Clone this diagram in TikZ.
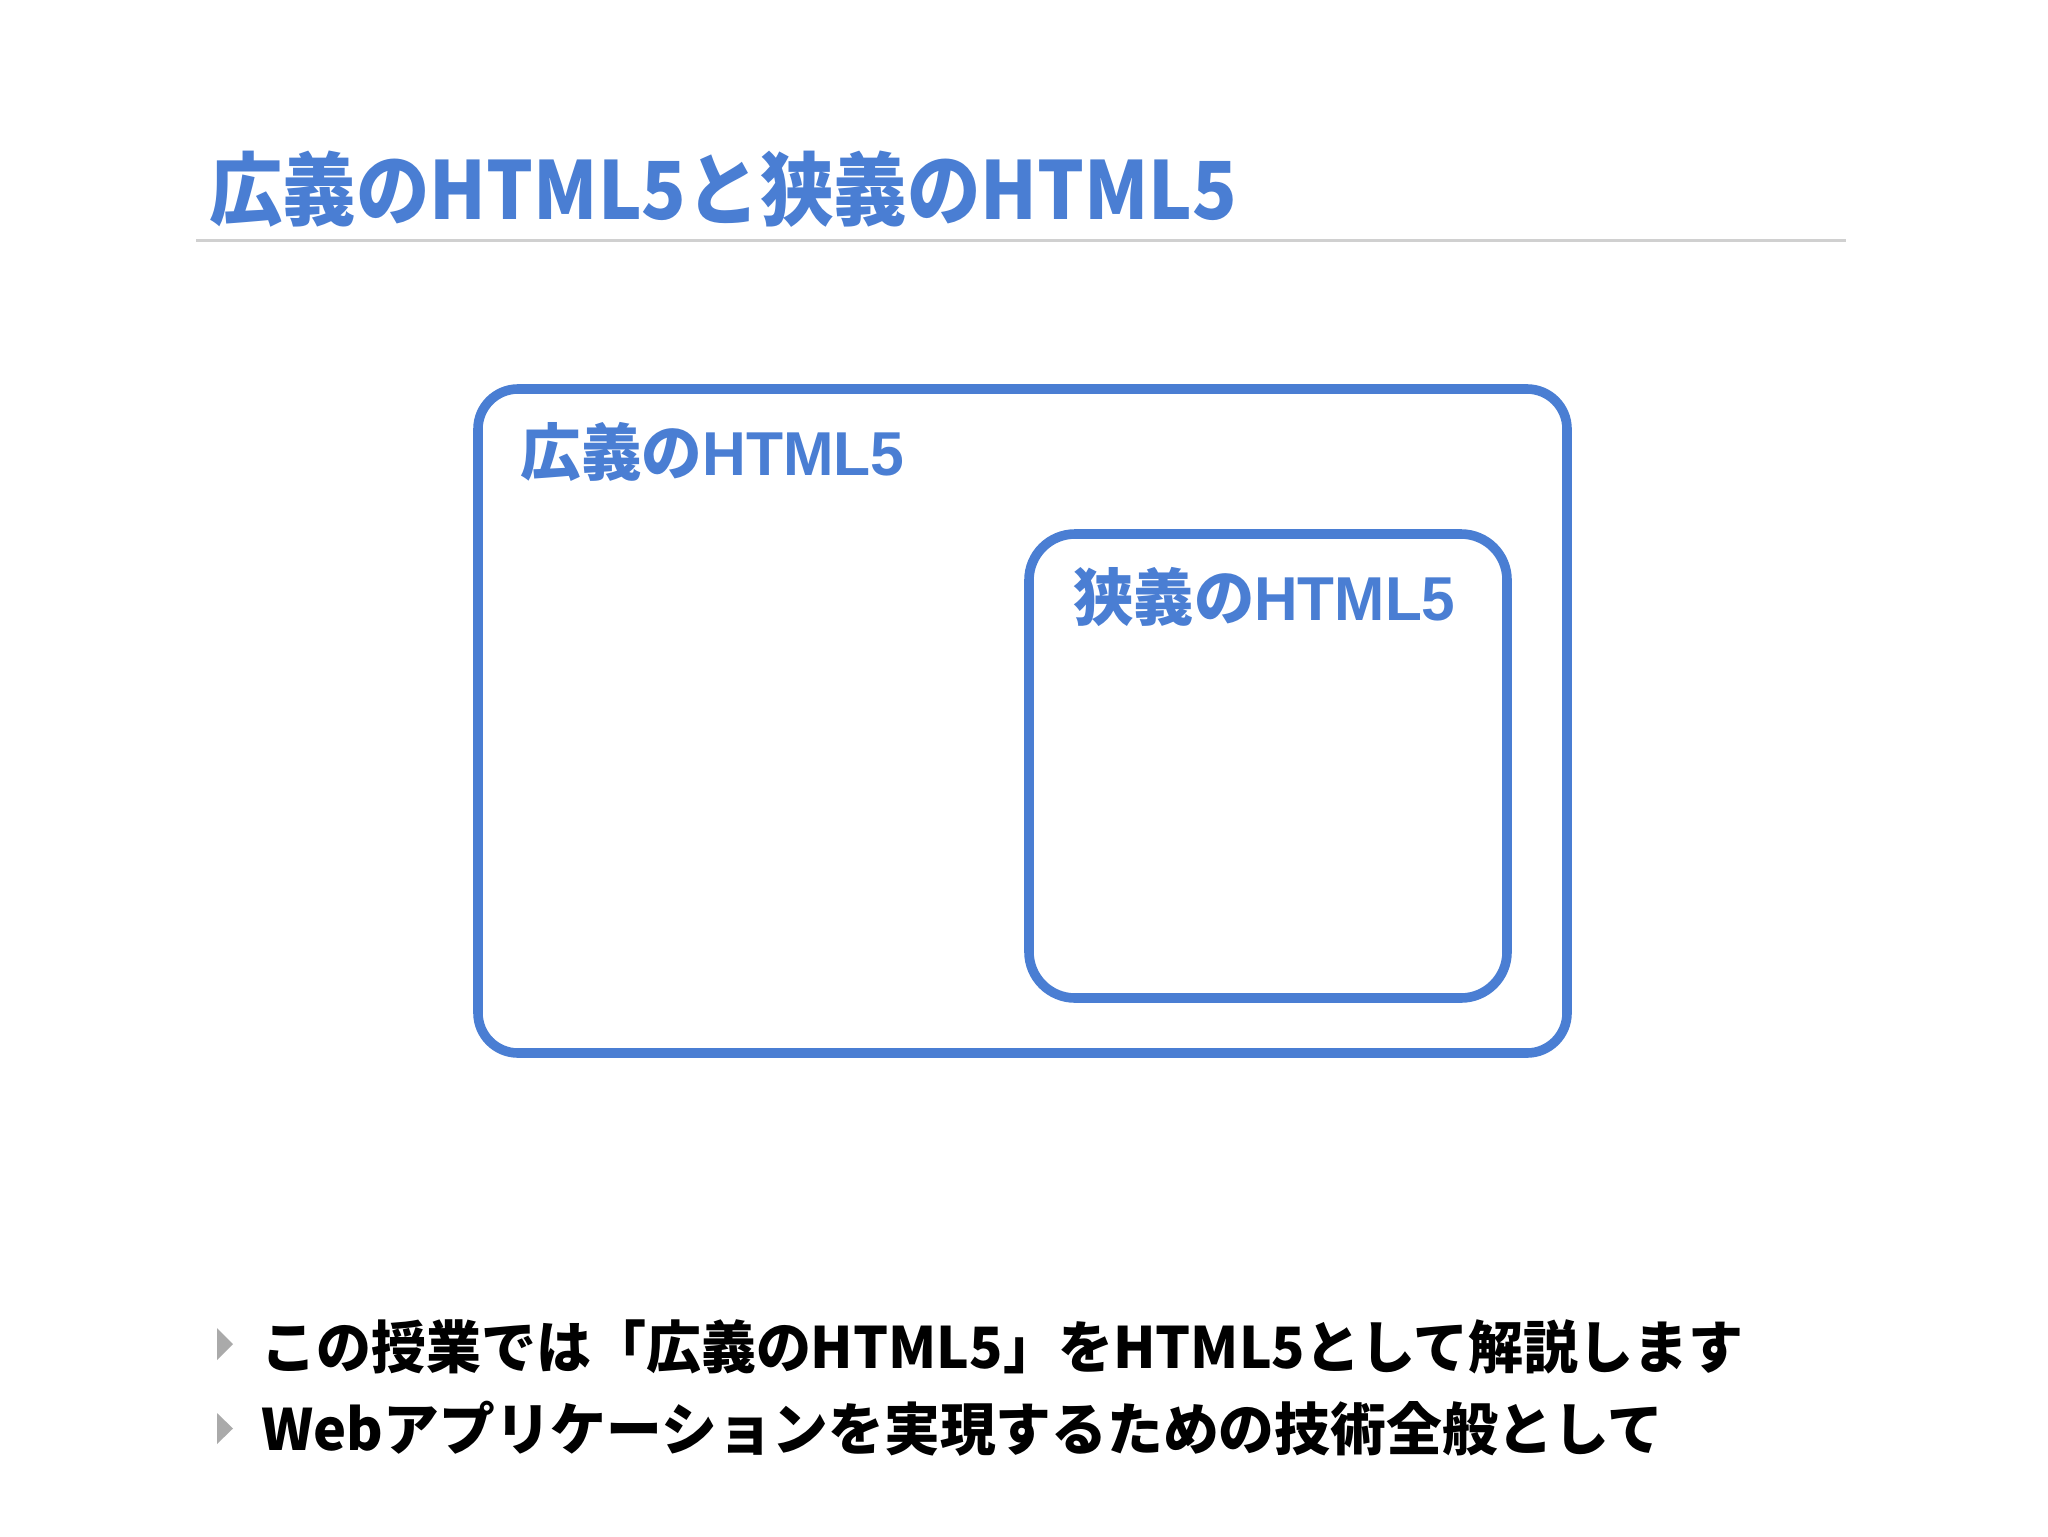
\documentclass[tikz,border=0pt]{standalone}
\usepackage{fontspec}
\usepackage{graphicx}
\newfontfamily\jp{Noto Sans CJK JP}
\newfontfamily\lat{Liberation Sans}
\definecolor{hblue}{RGB}{74,126,211}
\definecolor{rulegray}{RGB}{208,208,208}
\definecolor{bulgray}{RGB}{170,170,170}
\begin{document}
\begin{tikzpicture}[x=0.5pt,y=-0.5pt,
  boxline/.style={draw=hblue,line width=4.8pt},
  boxlabel/.style={anchor=base west,inner sep=0pt,text=hblue},
  bullettext/.style={anchor=base west,inner sep=0pt,text=black},
  bulletmark/.style={fill=bulgray,draw=none}]
\useasboundingbox[fill=white] (0,0) rectangle (2048,1536);
% title
\node[anchor=base west,inner sep=0pt,text=hblue] (title) at (209,219)
  {\resizebox{514pt}{\height}{\fontsize{40pt}{48pt}\jp\bfseries 広義のHTML5と狭義のHTML5}};
\coordinate (ruleL) at (196,240);
\coordinate (ruleR) at (1846,240);
\draw[rulegray,line width=1.5pt] (ruleL) -- (ruleR);
% outer box
\draw[boxline,rounded corners=20pt] (478,389) rectangle (1567,1053);
\node[boxlabel] (wide) at (520,475)
  {\resizebox{192pt}{\height}{\fontsize{31pt}{36pt}\jp\bfseries 広義の\lat\bfseries HTML5}};
% inner box
\draw[boxline,rounded corners=23pt] (1029,534) rectangle (1507,998);
\node[boxlabel] (narrow) at (1073,620)
  {\resizebox{191pt}{\height}{\fontsize{31pt}{36pt}\jp\bfseries 狭義の\lat\bfseries HTML5}};
% bullets
\fill[bulletmark] (217,1328) -- (233,1344) -- (217,1360) -- cycle;
\fill[bulletmark] (217,1413) -- (233,1428.5) -- (217,1444) -- cycle;
\node[bullettext] (b1) at (261,1368)
  {\resizebox{741pt}{\height}{\fontsize{28.5pt}{34pt}\jp\bfseries この授業では「広義のHTML5」をHTML5として解説します}};
\node[bullettext] (b2) at (261,1450)
  {\resizebox{701pt}{\height}{\fontsize{28.5pt}{34pt}\jp\bfseries Webアプリケーションを実現するための技術全般として}};
\end{tikzpicture}
\end{document}
